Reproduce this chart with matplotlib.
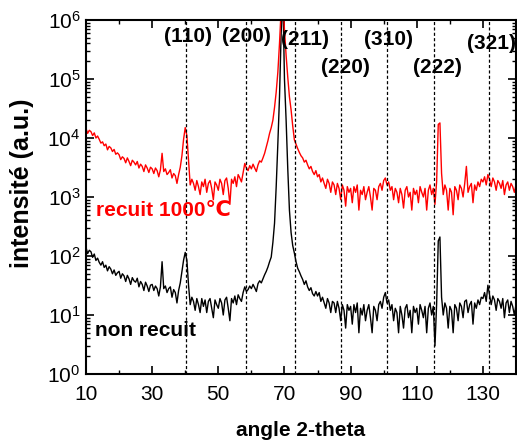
import numpy as np
import matplotlib
matplotlib.use('Agg')
import matplotlib.pyplot as plt
from matplotlib.ticker import MultipleLocator, LogLocator, NullFormatter

plt.rcParams['font.family'] = ['Liberation Sans', 'DejaVu Sans']
plt.rcParams['mathtext.default'] = 'regular'

# 2-theta grid (degrees), 0.5 deg step from 10 to 140
angle_start, angle_stop, angle_step = 10.0, 140.0, 0.5
angles = np.arange(angle_start, angle_stop + angle_step / 2, angle_step)

# annealed sample (recuit 1000 C), counts
recuit = [
    14500, 12000, 13500, 12800, 11000, 12200, 10000, 10800, 9500, 8200,     # 10.0
    8600, 7400, 7900, 6300, 7200, 6800, 5900, 6400, 5300, 5600,             # 15.0
    5200, 4300, 4800, 4500, 3800, 4600, 4000, 3400, 4200, 3900,             # 20.0
    3500, 4000, 3100, 3600, 3300, 2700, 3500, 3100, 2600, 3200,             # 25.0
    3000, 2500, 3100, 2800, 2200, 2900, 5500, 2700, 3000, 2400,             # 30.0
    2600, 2900, 2100, 2500, 2300, 1700, 2400, 3200, 5000, 9500,             # 35.0
    15000, 11000, 4200, 1600, 2000, 1700, 1300, 1900, 1500, 1100,           # 40.0
    1800, 1500, 2000, 1200, 1700, 1900, 1400, 900, 1800, 1600,              # 45.0
    1300, 2000, 1700, 1100, 1900, 2100, 1400, 750, 2000, 1700,              # 50.0
    2200, 1500, 2400, 2100, 1800, 2600, 3700, 3100, 2800, 3400,             # 55.0
    3000, 3600, 3100, 2700, 3500, 4100, 3900, 4600, 5500, 7000,             # 60.0
    9000, 12000, 15000, 20000, 33000, 60000, 130000, 400000, 1500000, 2500000,  # 65.0
    680000, 250000, 107000, 50000, 30000, 16000, 9300, 7800, 6600, 5700,    # 70.0
    5000, 4600, 3900, 4200, 3500, 3000, 3300, 2700, 2400, 2800,             # 75.0
    2200, 2400, 1800, 2100, 1700, 1400, 2000, 1700, 1200, 1800,             # 80.0
    1600, 1100, 1700, 1400, 900, 1600, 1300, 700, 1500, 1200,               # 85.0
    1400, 800, 1500, 1200, 1600, 600, 1300, 1100, 1500, 900,                # 90.0
    1200, 1500, 1000, 600, 1400, 1300, 900, 1500, 1700, 1300,               # 95.0
    1900, 2100, 1600, 1800, 1300, 1500, 900, 1400, 1200, 800,               # 100.0
    1400, 1100, 650, 1300, 1500, 1000, 1200, 600, 1400, 1100,               # 105.0
    1300, 800, 1500, 1200, 1000, 1400, 600, 1300, 1600, 1100,               # 110.0
    1400, 750, 1800, 17000, 18000, 2500, 1100, 1600, 1300, 600,             # 115.0
    1400, 1200, 500, 1500, 1300, 900, 1600, 1400, 1000, 1700,               # 120.0
    3300, 1200, 1500, 1700, 800, 1600, 1300, 1800, 1500, 2000,              # 125.0
    1800, 2200, 1600, 2400, 2000, 1500, 2100, 1800, 1300, 1900,             # 130.0
    1700, 1400, 1900, 1100, 1600, 1800, 1300, 1700, 1500, 1200,             # 135.0
    1600,                                                                   # 140.0
]

# as-deposited sample (non recuit)
non_recuit = [
    140, 110, 125, 118, 95, 108, 84, 92, 78, 70,                 # 10.0
    80, 64, 70, 56, 66, 60, 50, 58, 47, 52,                      # 15.0
    55, 42, 50, 46, 37, 47, 41, 33, 43, 38,                      # 20.0
    36, 42, 30, 37, 33, 26, 36, 31, 25, 32,                      # 25.0
    33, 26, 31, 28, 21, 30, 80, 28, 31, 24,                      # 30.0
    28, 30, 20, 27, 24, 16, 26, 35, 55, 85,                      # 35.0
    115, 85, 32, 15, 20, 17, 12, 19, 15, 11,                     # 40.0
    19, 14, 18, 11, 17, 19, 13, 9, 18, 15,                       # 45.0
    13, 19, 16, 10, 18, 20, 13, 8, 19, 16,                       # 50.0
    21, 15, 22, 19, 17, 24, 30, 25, 27, 31,                      # 55.0
    28, 33, 29, 25, 34, 38, 35, 41, 48, 55,                      # 60.0
    65, 80, 96, 170, 360, 1500, 8000, 50000, 600000, 3000000,    # 65.0
    100000, 20000, 3000, 600, 250, 150, 112, 80, 62, 54,         # 70.0
    46, 40, 33, 38, 30, 26, 29, 23, 21, 25,                      # 75.0
    21, 24, 17, 20, 16, 13, 19, 16, 11, 17,                      # 80.0
    16, 11, 17, 13, 8, 15, 12, 6, 15, 12,                        # 85.0
    14, 7, 15, 11, 16, 5, 13, 10, 15, 8,                         # 90.0
    12, 15, 9, 5, 14, 12, 8, 15, 17, 13,                         # 95.0
    20, 24, 16, 18, 12, 15, 8, 13, 11, 5,                        # 100.0
    14, 10, 6, 13, 15, 9, 12, 5, 14, 11,                         # 105.0
    13, 7, 15, 12, 9, 14, 5, 13, 16, 10,                         # 110.0
    14, 3, 15, 180, 210, 20, 10, 16, 13, 6,                      # 115.0
    14, 12, 5, 15, 13, 8, 16, 14, 9, 17,                         # 120.0
    18, 11, 15, 17, 7, 16, 13, 18, 15, 20,                       # 125.0
    19, 24, 17, 32, 22, 15, 21, 18, 12, 19,                      # 130.0
    17, 13, 19, 9, 16, 18, 11, 17, 14, 10,                       # 135.0
    15,                                                          # 140.0
]

# reflection positions (2-theta) and Miller labels
peak_pos = [40.1, 58.3, 73.3, 87.1, 101.0, 115.3, 131.8]
peak_hkl = ['(110)', '(200)', '(211)', '(220)', '(310)', '(222)', '(321)']
label_x = [40.8, 58.4, 76.2, 88.3, 101.6, 116.1, 132.7]
label_y = [0.952, 0.952, 0.946, 0.867, 0.946, 0.867, 0.935]

xticks = [10, 30, 50, 70, 90, 110, 130]
yticks = [1, 10, 100, 1e3, 1e4, 1e5, 1e6]
ytick_labels = [r'$10^{0}$', r'$10^{1}$', r'$10^{2}$', r'$10^{3}$',
                r'$10^{4}$', r'$10^{5}$', r'$10^{6}$']

W, H = 517, 443
fig = plt.figure(figsize=(W / 100, H / 100), dpi=100)
ax = fig.add_axes([86 / W, 1 - 374 / H, 430 / W, 354 / H])

ax.plot(angles, non_recuit, color='black', lw=1.0, zorder=2)
ax.plot(angles, recuit, color='#ff0000', lw=1.0, zorder=2)

for p in peak_pos:
    ax.axvline(p, color='black', lw=0.9, ls=(0, (2.5, 1.8)), zorder=3)

for lx, ly, t in zip(label_x, label_y, peak_hkl):
    ax.text(lx, ly, t, transform=ax.get_xaxis_transform(), ha='center',
            va='center', fontsize=15, fontweight='bold', zorder=4)

ax.text(13.0, 0.463, 'recuit 1000℃', transform=ax.get_xaxis_transform(),
        ha='left', va='center', fontsize=15, fontweight='bold', color='#ff0000',
        family=['Liberation Sans', 'DejaVu Sans'])
ax.text(12.7, 0.124, 'non recuit', transform=ax.get_xaxis_transform(),
        ha='left', va='center', fontsize=15, fontweight='bold', color='black')

ax.set_yscale('log')
ax.set_xlim(10, 140)
ax.set_ylim(1, 1e6)
ax.set_xticks(xticks)
ax.set_xticklabels([str(v) for v in xticks])
ax.xaxis.set_minor_locator(MultipleLocator(10))
ax.set_yticks(yticks)
ax.set_yticklabels(ytick_labels)
ax.yaxis.set_minor_locator(LogLocator(base=10, subs=np.arange(2, 10)))
ax.yaxis.set_minor_formatter(NullFormatter())

ax.tick_params(which='both', direction='in', top=True, right=True, labelsize=15)
ax.tick_params(which='major', length=6, width=1.2)
ax.tick_params(which='minor', length=3, width=1.0)
ax.tick_params(axis='x', pad=8)
ax.tick_params(axis='y', pad=4)
for s in ax.spines.values():
    s.set_linewidth(1.5)

ax.set_xlabel('angle 2-theta', fontsize=15, fontweight='bold', labelpad=12)
ax.set_ylabel('intensité (a.u.)', fontsize=18, fontweight='bold')
ax.yaxis.set_label_coords(-0.12, 0.54)

fig.savefig('out.png', dpi=100)
